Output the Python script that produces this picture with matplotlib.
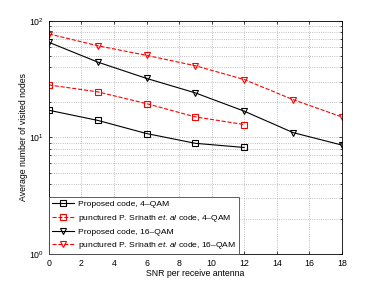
import numpy as np
import matplotlib.pyplot as plt
from matplotlib.ticker import LogLocator, NullFormatter

snr_4qam = [0, 3, 6, 9, 12]
snr_16qam = [0, 3, 6, 9, 12, 15, 18]

proposed_4qam = [17.1, 14.0, 10.8, 8.9, 8.2]
srinath_4qam = [28.2, 24.6, 19.5, 15.0, 12.9]
proposed_16qam = [65.5, 44.3, 32.1, 24.1, 16.8, 11.0, 8.6]
srinath_16qam = [77.3, 61.2, 50.6, 41.2, 31.4, 21.1, 15.0]

labels = ['Proposed code, 4\u2013QAM',
          'punctured P. Srinath $\\mathit{et.al}$ code, 4\u2013QAM',
          'Proposed code, 16\u2013QAM',
          'punctured P. Srinath $\\mathit{et.al}$ code, 16\u2013QAM']

plt.rcParams['font.family'] = 'Liberation Sans'
plt.rcParams['mathtext.fontset'] = 'custom'
plt.rcParams['mathtext.it'] = 'Liberation Sans:italic'

fig = plt.figure(figsize=(3.79, 2.86), dpi=100)
ax = fig.add_axes([0.129, 0.112, 0.773, 0.815])

ax.semilogy(snr_4qam, proposed_4qam, 'k-', marker='s', mfc='none', ms=4, lw=0.8, mew=0.8, label=labels[0])
ax.semilogy(snr_4qam, srinath_4qam, 'r--', marker='s', mfc='none', ms=4, lw=0.8, mew=0.8, label=labels[1])
ax.semilogy(snr_16qam, proposed_16qam, 'k-', marker='v', mfc='none', ms=4.5, lw=0.8, mew=0.8, label=labels[2])
ax.semilogy(snr_16qam, srinath_16qam, 'r--', marker='v', mfc='none', ms=4.5, lw=0.8, mew=0.8, label=labels[3])

ax.set_xlim(0, 18)
ax.set_ylim(1, 100)
ax.set_xticks(np.arange(0, 19, 2))
ax.yaxis.set_major_locator(LogLocator(base=10))
ax.yaxis.set_minor_locator(LogLocator(base=10, subs=np.arange(2, 10)))
ax.yaxis.set_minor_formatter(NullFormatter())
ax.grid(True, which='major', ls=':', lw=0.6, color='#aaaaaa')
ax.grid(True, which='minor', axis='y', ls=':', lw=0.6, color='#aaaaaa')
ax.tick_params(labelsize=6.3, direction='in', length=2.5, width=0.5, top=True, right=True)
ax.tick_params(which='minor', direction='in', length=1.5, width=0.5, right=True)
for s in ax.spines.values():
    s.set_linewidth(0.6)

ax.set_xlabel('SNR per receive antenna', fontsize=6.3, labelpad=1)
ax.set_ylabel('Average number of visited nodes', fontsize=6.3, labelpad=1)

leg = ax.legend(loc='lower left', fontsize=6.1, borderaxespad=0, handlelength=2.6,
                handletextpad=0.5, fancybox=False, framealpha=1, edgecolor='#444444',
                borderpad=0.35, labelspacing=0.5)
leg.get_frame().set_linewidth(0.6)

fig.savefig('out.png', dpi=100)
